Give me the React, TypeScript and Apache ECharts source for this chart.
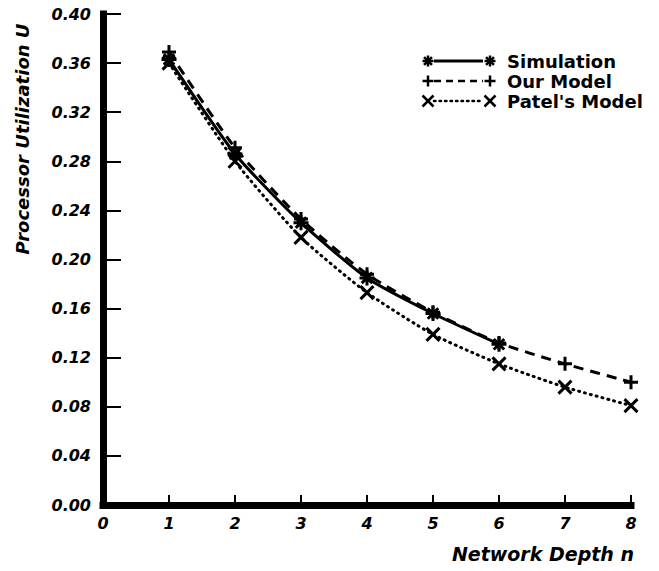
import React, { useEffect, useRef } from "react";
import * as echarts from "echarts";

const depths = [1, 2, 3, 4, 5, 6, 7, 8];
const simulation = [0.363, 0.286, 0.23, 0.185, 0.156, 0.131];
const ourModel = [0.369, 0.291, 0.233, 0.188, 0.157, 0.132, 0.115, 0.1];
const patelModel = [0.36, 0.28, 0.218, 0.173, 0.139, 0.115, 0.096, 0.081];
const seriesNames = ["Simulation", "Our Model", "Patel's Model"];
const yTicks = [0, 0.04, 0.08, 0.12, 0.16, 0.2, 0.24, 0.28, 0.32, 0.36, 0.4];
const xTicks = [0, 1, 2, 3, 4, 5, 6, 7, 8];

const ASTERISK = "path://M0,5L10,5M5,0L5,10M1.5,1.5L8.5,8.5M8.5,1.5L1.5,8.5";
const PLUS = "path://M5,0L5,10M0,5L10,5";
const CROSS = "path://M0,0L10,10M10,0L0,10";

const FONT = "'DejaVu Sans', sans-serif";

function pairs(vals: number[]) {
  return vals.map((v, i) => [depths[i], v]);
}

function markerLines(kind: string, cx: number, cy: number, r: number, w: number) {
  const segs: number[][] = [];
  if (kind === "asterisk" || kind === "plus") {
    segs.push([cx - r, cy, cx + r, cy], [cx, cy - r, cx, cy + r]);
  }
  if (kind === "asterisk" || kind === "cross") {
    const d = kind === "asterisk" ? r * 0.72 : r;
    segs.push([cx - d, cy - d, cx + d, cy + d], [cx + d, cy - d, cx - d, cy + d]);
  }
  return segs.map((s) => ({
    type: "line",
    shape: { x1: s[0], y1: s[1], x2: s[2], y2: s[3] },
    style: { stroke: "#000", lineWidth: w },
  }));
}

export default function App() {
  const ref = useRef<HTMLDivElement>(null);
  useEffect(() => {
    document.body.style.margin = "0";
    if (!ref.current) return;
    const chart = echarts.init(ref.current, null, { renderer: "svg" });

    const legendRows = [
      { kind: "asterisk", dash: "solid", y: 61, w: 3 },
      { kind: "plus", dash: [7, 5], y: 81, w: 2.5 },
      { kind: "cross", dash: [1.5, 4], y: 101, w: 2.5 },
    ];
    const legendGraphics: any[] = [];
    legendRows.forEach((row, i) => {
      legendGraphics.push({
        type: "line",
        shape: { x1: 434, y1: row.y, x2: 483, y2: row.y },
        style: { stroke: "#000", lineWidth: row.w, lineDash: row.dash, lineCap: i === 2 ? "round" : "butt" },
      });
      legendGraphics.push(...markerLines(row.kind, 428, row.y, 5.5, 2.5));
      legendGraphics.push(...markerLines(row.kind, 490, row.y, 5.5, 2.5));
      legendGraphics.push({
        type: "text",
        x: 507,
        y: row.y,
        style: {
          text: seriesNames[i],
          font: `bold 18px ${FONT}`,
          fill: "#000",
          verticalAlign: "middle",
          align: "left",
        },
      });
    });

    const axisLabelStyle = {
      color: "#000",
      fontFamily: FONT,
      fontWeight: "bold",
      fontStyle: "italic",
      fontSize: 16,
    };

    chart.setOption({
      animation: false,
      grid: { left: 103, right: 28, top: 14, bottom: 66 },
      xAxis: {
        type: "value",
        min: 0,
        max: 8,
        interval: 1,
        axisLine: { lineStyle: { color: "#000", width: 7, cap: "square" } },
        axisTick: { inside: true, length: 10, lineStyle: { color: "#000", width: 2 } },
        splitLine: { show: false },
        axisLabel: { ...axisLabelStyle, margin: 10, formatter: (v: number) => (xTicks.includes(v) ? String(v) : "") },
      },
      yAxis: {
        type: "value",
        min: 0,
        max: 0.4,
        interval: 0.04,
        axisLine: { show: true, lineStyle: { color: "#000", width: 7, cap: "square" } },
        axisTick: { show: true, inside: true, length: 18, lineStyle: { color: "#000", width: 2 } },
        splitLine: { show: false },
        axisLabel: {
          ...axisLabelStyle,
          margin: 12,
          formatter: (v: number) => {
            const t = yTicks.find((k) => Math.abs(k - v) < 1e-9);
            return t === undefined ? "" : t.toFixed(2);
          },
        },
      },
      series: [
        {
          name: seriesNames[0],
          type: "line",
          data: pairs(simulation),
          smooth: 0.2,
          symbol: ASTERISK,
          symbolSize: 15,
          itemStyle: { color: "#000", borderColor: "#000", borderWidth: 3 },
          lineStyle: { color: "#000", width: 3, type: "solid" },
          emphasis: { disabled: true },
          z: 4,
        },
        {
          name: seriesNames[1],
          type: "line",
          data: pairs(ourModel),
          smooth: 0.2,
          symbol: PLUS,
          symbolSize: 14,
          itemStyle: { color: "#000", borderColor: "#000", borderWidth: 3 },
          lineStyle: { color: "#000", width: 3, type: [10, 7] },
          emphasis: { disabled: true },
          z: 3,
        },
        {
          name: seriesNames[2],
          type: "line",
          data: pairs(patelModel),
          smooth: 0.2,
          symbol: CROSS,
          symbolSize: 13,
          itemStyle: { color: "#000", borderColor: "#000", borderWidth: 3 },
          lineStyle: { color: "#000", width: 3, type: [1, 5], cap: "round" },
          emphasis: { disabled: true },
          z: 2,
        },
      ],
      graphic: [
        {
          type: "text",
          x: 22,
          y: 139,
          rotation: Math.PI / 2,
          style: {
            text: "Processor Utilization U",
            font: `italic bold 18px ${FONT}`,
            fill: "#000",
            align: "center",
            verticalAlign: "middle",
          },
        },
        {
          type: "text",
          x: 634,
          y: 554,
          style: {
            text: "Network Depth n",
            font: `italic bold 19px ${FONT}`,
            fill: "#000",
            align: "right",
            verticalAlign: "middle",
          },
        },
        ...legendGraphics,
      ],
    });
    return () => chart.dispose();
  }, []);
  return <div ref={ref} style={{ width: 659, height: 571 }} />;
}
